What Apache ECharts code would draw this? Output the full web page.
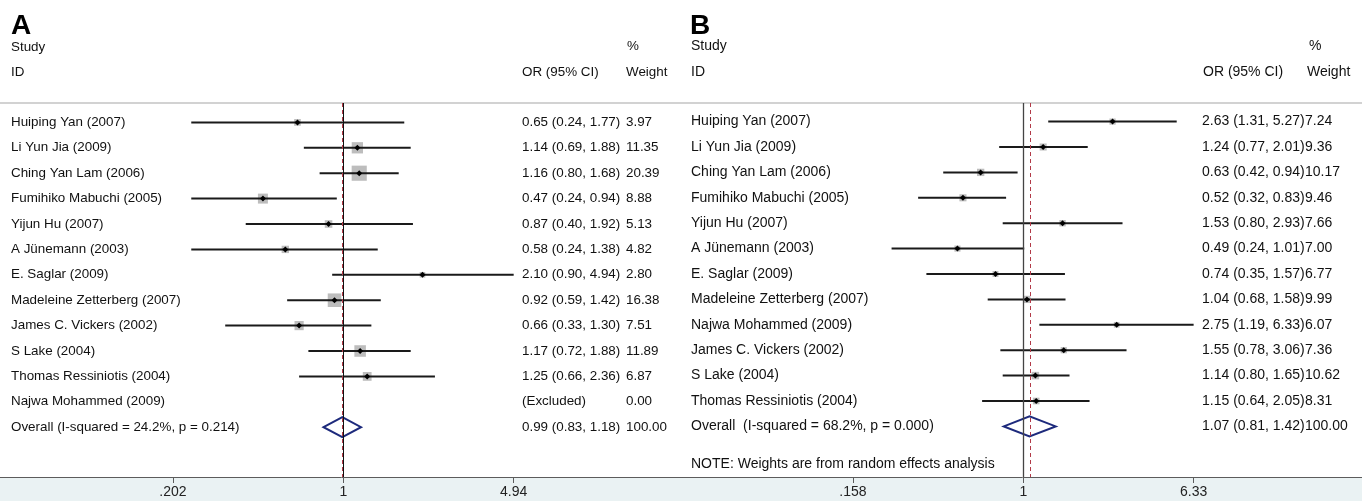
<!DOCTYPE html>
<html>
<head>
<meta charset="utf-8">
<script src="https://cdn.jsdelivr.net/npm/echarts@6/dist/echarts.min.js"></script>
<style>
  html, body { margin: 0; padding: 0; background: #fff; }
  #chart { width: 1362px; height: 501px; }
</style>
</head>
<body>
<div id="chart"></div>
<script>
// ---- Panel A: fixed-effects meta-analysis ----
const studiesA = [
  'Huiping Yan (2007)', 'Li Yun Jia (2009)', 'Ching Yan Lam (2006)',
  'Fumihiko Mabuchi (2005)', 'Yijun Hu (2007)', 'A Jünemann (2003)',
  'E. Saglar (2009)', 'Madeleine Zetterberg (2007)', 'James C. Vickers (2002)',
  'S Lake (2004)', 'Thomas Ressiniotis (2004)', 'Najwa Mohammed (2009)'
];
const orA = [0.65, 1.14, 1.16, 0.47, 0.87, 0.58, 2.10, 0.92, 0.66, 1.17, 1.25, null];
const loA = [0.24, 0.69, 0.80, 0.24, 0.40, 0.24, 0.90, 0.59, 0.33, 0.72, 0.66, null];
const hiA = [1.77, 1.88, 1.68, 0.94, 1.92, 1.38, 4.94, 1.42, 1.30, 1.88, 2.36, null];
const weightA = [3.97, 11.35, 20.39, 8.88, 5.13, 4.82, 2.80, 16.38, 7.51, 11.89, 6.87, 0.00];
const overallLabelA = 'Overall (I-squared = 24.2%, p = 0.214)';
const overallA = [0.99, 0.83, 1.18, 100.00]; // OR, lower, upper, weight
const tickValuesA = [0.202, 1, 4.94];
const tickLabelsA = ['.202', '1', '4.94'];

// ---- Panel B: random-effects meta-analysis ----
const studiesB = [
  'Huiping Yan (2007)', 'Li Yun Jia (2009)', 'Ching Yan Lam (2006)',
  'Fumihiko Mabuchi (2005)', 'Yijun Hu (2007)', 'A Jünemann (2003)',
  'E. Saglar (2009)', 'Madeleine Zetterberg (2007)', 'Najwa Mohammed (2009)',
  'James C. Vickers (2002)', 'S Lake (2004)', 'Thomas Ressiniotis (2004)'
];
const orB = [2.63, 1.24, 0.63, 0.52, 1.53, 0.49, 0.74, 1.04, 2.75, 1.55, 1.14, 1.15];
const loB = [1.31, 0.77, 0.42, 0.32, 0.80, 0.24, 0.35, 0.68, 1.19, 0.78, 0.80, 0.64];
const hiB = [5.27, 2.01, 0.94, 0.83, 2.93, 1.01, 1.57, 1.58, 6.33, 3.06, 1.65, 2.05];
const weightB = [7.24, 9.36, 10.17, 9.46, 7.66, 7.00, 6.77, 9.99, 6.07, 7.36, 10.62, 8.31];
const overallLabelB = 'Overall  (I-squared = 68.2%, p = 0.000)';
const overallB = [1.07, 0.81, 1.42, 100.00];
const tickValuesB = [0.158, 1, 6.33];
const tickLabelsB = ['.158', '1', '6.33'];
const noteB = 'NOTE: Weights are from random effects analysis';

const FONT = '"Liberation Sans", Arial, sans-serif';
const ln = Math.log;

function buildRows(names, or, lo, hi, w, overallLabel, overall) {
  const rows = names.map((n, i) => ({ row: i, name: n, or: or[i], lo: lo[i], hi: hi[i], w: w[i], overall: false }));
  rows.push({ row: names.length, name: overallLabel, or: overall[0], lo: overall[1], hi: overall[2], w: overall[3], overall: true });
  return rows;
}

const panels = [
  {
    rows: buildRows(studiesA, orA, loA, hiA, weightA, overallLabelA, overallA),
    fontSize: 13.4, labelX: 11, ciX: 522, wX: 626, boxScale: 3.35, diamondHalf: 10,
    zero: 343.4, pxPerUnit: 106.6, left: 0, right: 683, firstRowY: 122.4,
    ticks: tickValuesA, tickLabels: tickLabelsA, refColor: '#111', refWidth: 1
  },
  {
    rows: buildRows(studiesB, orB, loB, hiB, weightB, overallLabelB, overallB),
    fontSize: 14, labelX: 691, ciX: 1202, wX: 1305, boxScale: 2.3, diamondHalf: 10,
    zero: 1023.3, pxPerUnit: 92.3, left: 683, right: 1362, firstRowY: 121.6,
    ticks: tickValuesB, tickLabels: tickLabelsB, refColor: '#444', refWidth: 1.3
  }
];

const GRID_TOP = 103, GRID_BOTTOM = 477, ROW_PX = 25.4;

function txt(x, y, s, size, extra) {
  return Object.assign({
    type: 'text', x: x, y: y,
    style: { text: s, fill: '#111', font: size + 'px ' + FONT, align: 'left', verticalAlign: 'middle' }
  }, extra || {});
}

function makeRender(p) {
  return function (params, api) {
    const r = p.rows[params.dataIndex];
    const y = api.coord([0, r.row])[1];
    const kids = [txt(p.labelX, y, r.name, p.fontSize)];
    if (r.or == null) {
      kids.push(txt(p.ciX, y, '(Excluded)', p.fontSize));
      kids.push(txt(p.wX, y, r.w.toFixed(2), p.fontSize));
      return { type: 'group', children: kids };
    }
    const xo = api.coord([ln(r.or), r.row])[0];
    const xl = api.coord([ln(r.lo), r.row])[0];
    const xh = api.coord([ln(r.hi), r.row])[0];
    if (r.overall) {
      const h = p.diamondHalf;
      kids.push({
        type: 'polygon',
        shape: { points: [[xl, y], [xo, y - h], [xh, y], [xo, y + h]] },
        style: { fill: 'none', stroke: '#1d2a7c', lineWidth: 2 }
      });
    } else {
      const s = p.boxScale * Math.sqrt(r.w);
      kids.push({ type: 'rect', shape: { x: xo - s / 2, y: y - s / 2, width: s, height: s }, style: { fill: '#bdbdbd' } });
      kids.push({ type: 'line', shape: { x1: xl, y1: y, x2: xh, y2: y }, style: { stroke: '#1a1a1a', lineWidth: 2 } });
      const d = 3;
      kids.push({
        type: 'polygon',
        shape: { points: [[xo - d, y], [xo, y - d], [xo + d, y], [xo, y + d]] },
        style: { fill: '#000' }
      });
    }
    const ci = r.or.toFixed(2) + ' (' + r.lo.toFixed(2) + ', ' + r.hi.toFixed(2) + ')';
    kids.push(txt(p.ciX, y, ci, p.fontSize));
    kids.push(txt(p.wX, y, r.w.toFixed(2), p.fontSize));
    return { type: 'group', children: kids };
  };
}

const grids = [], xAxes = [], yAxes = [], series = [];
panels.forEach((p, i) => {
  grids.push({ left: p.left, width: p.right - p.left, top: GRID_TOP, height: GRID_BOTTOM - GRID_TOP });
  const tickLn = p.ticks.map(ln);
  xAxes.push({
    type: 'value', gridIndex: i, position: 'bottom',
    min: (p.left - p.zero) / p.pxPerUnit,
    max: (p.right - p.zero) / p.pxPerUnit,
    axisLine: { show: true, onZero: false, lineStyle: { color: '#5c5c5c', width: 1 } },
    axisTick: { show: true, customValues: tickLn, length: 6, lineStyle: { color: '#5c5c5c', width: 1 } },
    axisLabel: {
      customValues: tickLn, margin: 8, fontSize: 14, fontFamily: FONT, color: '#222',
      formatter: v => {
        const k = tickLn.findIndex(t => Math.abs(t - v) < 1e-6);
        return k >= 0 ? p.tickLabels[k] : '';
      }
    },
    splitLine: { show: false }
  });
  const yMin = -(p.firstRowY - GRID_TOP) / ROW_PX;
  yAxes.push({
    type: 'value', gridIndex: i, inverse: true, show: false,
    min: yMin, max: yMin + (GRID_BOTTOM - GRID_TOP) / ROW_PX
  });
  series.push({
    type: 'custom', xAxisIndex: i, yAxisIndex: i,
    renderItem: makeRender(p),
    data: p.rows.map(r => [r.or == null ? 0 : ln(r.or), r.row]),
    encode: { x: 0, y: 1 },
    silent: true,
    markLine: {
      symbol: 'none', silent: true, label: { show: false }, animation: false,
      data: [
        { xAxis: 0, lineStyle: { color: p.refColor, width: p.refWidth, type: 'solid' } },
        { xAxis: ln(p.rows[p.rows.length - 1].or), lineStyle: { color: '#b23a48', width: 1, type: [4, 3] } }
      ]
    }
  });
});

const graphic = [
  { type: 'rect', z: -10, shape: { x: 0, y: 478, width: 1362, height: 23 }, style: { fill: '#eaf2f3' } },
  { type: 'line', shape: { x1: 0, y1: 103, x2: 1362, y2: 103 }, style: { stroke: '#d2d2d2', lineWidth: 2 } },
  { type: 'text', x: 11, y: 26, style: { text: 'A', font: 'bold 28px ' + FONT, fill: '#000', verticalAlign: 'middle' } },
  { type: 'text', x: 690, y: 26, style: { text: 'B', font: 'bold 28px ' + FONT, fill: '#000', verticalAlign: 'middle' } },
  txt(11, 47, 'Study', 13.4), txt(11, 72, 'ID', 13.4),
  txt(522, 72, 'OR (95% CI)', 13.4), txt(627, 46, '%', 13.4), txt(626, 72, 'Weight', 13.4),
  txt(691, 46, 'Study', 14), txt(691, 72, 'ID', 14),
  txt(1203, 72, 'OR (95% CI)', 14), txt(1309, 46, '%', 14), txt(1307, 72, 'Weight', 14),
  txt(691, 464, noteB, 14)
];

const chart = echarts.init(document.getElementById('chart'), null, { renderer: 'canvas' });
chart.setOption({
  animation: false,
  backgroundColor: '#fff',
  grid: grids, xAxis: xAxes, yAxis: yAxes, series: series,
  graphic: { elements: graphic }
});
</script>
</body>
</html>
